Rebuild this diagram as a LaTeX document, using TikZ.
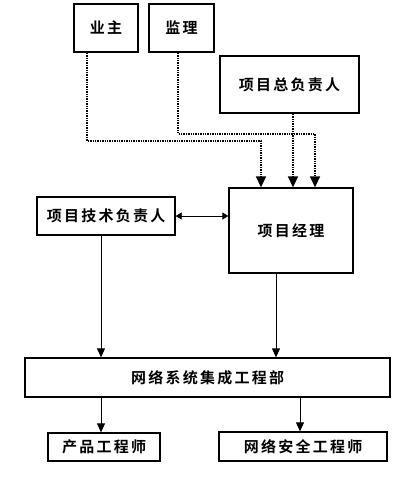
\documentclass[tikz,border=0pt]{standalone}
\usepackage{fontspec}
\newfontfamily\cjk[LetterSpace=15]{Noto Sans CJK SC Bold}
\usepackage{tikz}
\usetikzlibrary{arrows.meta,calc}

\begin{document}
\begin{tikzpicture}[x=1pt,y=-1pt,
  box/.style={draw,line width=1.6pt,inner sep=0pt,font=\cjk\fontsize{15}{15}\selectfont},
  thinbox/.style={box,line width=1.3pt},
  dotline/.style={line width=1.4pt,densely dotted,-{Triangle[length=11pt,width=10pt]}},
  arr/.style={line width=0.8pt,-{Triangle[length=9pt,width=8pt]}},
  biarr/.style={line width=0.8pt,{Triangle[length=6pt,width=7pt]}-{Triangle[length=6pt,width=7pt]}}]
\useasboundingbox (0,0) rectangle (418,477);
% top row
\node[box,minimum width=64pt,minimum height=48pt] (yezhu) at (106,28) {业主};
\node[box,minimum width=65pt,minimum height=48pt] (jianli) at (181.5,28) {监理};
\node[box,minimum width=139pt,minimum height=57pt] (zong) at (289.5,84.5) {项目总负责人};
% middle
\node[thinbox,minimum width=124pt,minimum height=85pt] (jingli) at (291,230.5) {项目经理};
\node[thinbox,minimum width=138pt,minimum height=38pt] (jishu) at (106,216) {项目技术负责人};
% bottom
\node[thinbox,minimum width=365pt,minimum height=39pt] (bu) at (207.5,377.5) {网络系统集成工程部};
\node[thinbox,minimum width=112pt,minimum height=28pt] (chanpin) at (104,447) {产品工程师};
\node[thinbox,minimum width=168pt,minimum height=29pt] (anquan) at (303,446.5) {网络安全工程师};
% dotted lines
\draw[dotline] ([xshift=-19pt]yezhu.south) -- ++(0,88) -| ([xshift=-30pt]jingli.north);
\draw[dotline] ([xshift=-3.5pt]jianli.south) -- ++(0,81) -| ([xshift=24pt]jingli.north);
\draw[dotline] ([xshift=2pt]jingli.north |- zong.south) -- ([xshift=2pt]jingli.north);
% solid arrows
\draw[biarr] (jishu.east) -- (jishu.east -| jingli.west);
\draw[arr] ([xshift=-5pt]jishu.south) -- ([xshift=-5pt]jishu.south |- bu.north);
\draw[arr] ([xshift=-15pt]jingli.south) -- ([xshift=-15pt]jingli.south |- bu.north);
\draw[arr] ([xshift=-3pt]chanpin.north |- bu.south) -- ([xshift=-3pt]chanpin.north);
\draw[arr] ([xshift=-3pt]anquan.north |- bu.south) -- ([xshift=-3pt]anquan.north);
\end{tikzpicture}
\end{document}
